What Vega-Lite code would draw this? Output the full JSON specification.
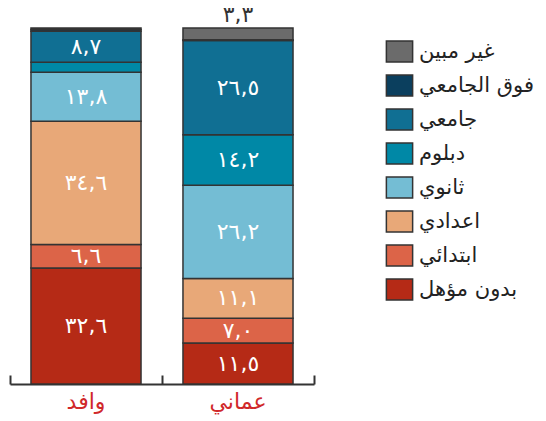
{
  "$schema": "https://vega.github.io/schema/vega-lite/v6.json",
  "width": 304,
  "height": 356,
  "autosize": "none",
  "padding": {"left": 10, "top": 28, "right": 232, "bottom": 37},
  "background": "white",
  "config": {"view": {"stroke": null}, "font": "DejaVu Sans"},
  "data": {
    "values": [
      {"group": "وافد", "category": "بدون مؤهل", "value": 32.6, "order": 1, "label": "٣٢,٦", "top": ""},
      {"group": "وافد", "category": "ابتدائي", "value": 6.6, "order": 2, "label": "٦,٦", "top": ""},
      {"group": "وافد", "category": "اعدادي", "value": 34.6, "order": 3, "label": "٣٤,٦", "top": ""},
      {"group": "وافد", "category": "ثانوي", "value": 13.8, "order": 4, "label": "١٣,٨", "top": ""},
      {"group": "وافد", "category": "دبلوم", "value": 2.8, "order": 5, "label": "", "top": ""},
      {"group": "وافد", "category": "جامعي", "value": 8.7, "order": 6, "label": "٨,٧", "top": ""},
      {"group": "وافد", "category": "فوق الجامعي", "value": 0.5, "order": 7, "label": "", "top": ""},
      {"group": "وافد", "category": "غير مبين", "value": 0.4, "order": 8, "label": "", "top": ""},
      {"group": "عماني", "category": "بدون مؤهل", "value": 11.5, "order": 1, "label": "١١,٥", "top": ""},
      {"group": "عماني", "category": "ابتدائي", "value": 7.0, "order": 2, "label": "٧,٠", "top": ""},
      {"group": "عماني", "category": "اعدادي", "value": 11.1, "order": 3, "label": "١١,١", "top": ""},
      {"group": "عماني", "category": "ثانوي", "value": 26.2, "order": 4, "label": "٢٦,٢", "top": ""},
      {"group": "عماني", "category": "دبلوم", "value": 14.2, "order": 5, "label": "١٤,٢", "top": ""},
      {"group": "عماني", "category": "جامعي", "value": 26.5, "order": 6, "label": "٢٦,٥", "top": ""},
      {"group": "عماني", "category": "فوق الجامعي", "value": 0.2, "order": 7, "label": "", "top": ""},
      {"group": "عماني", "category": "غير مبين", "value": 3.3, "order": 8, "label": "", "top": "٣,٣"}
    ]
  },
  "transform": [
    {"stack": "value", "groupby": ["group"], "sort": [{"field": "order", "order": "ascending"}], "as": ["y0", "y1"]}
  ],
  "encoding": {
    "x": {
      "field": "group",
      "type": "nominal",
      "sort": ["وافد", "عماني"],
      "scale": {"paddingInner": 0, "paddingOuter": 0},
      "axis": {
        "title": null,
        "labelAngle": 0,
        "bandPosition": 1,
        "tickExtra": true,
        "tickSize": -9,
        "tickWidth": 2,
        "tickColor": "#333333",
        "domainColor": "#333333",
        "domainWidth": 2,
        "labelColor": "#d0282a",
        "labelFontSize": 22,
        "labelPadding": 16,
        "labelFont": "DejaVu Sans"
      }
    }
  },
  "layer": [
    {
      "mark": {"type": "bar", "width": {"band": 0.724}, "stroke": "#333333", "strokeWidth": 1.5},
      "encoding": {
        "y": {"field": "y0", "type": "quantitative", "scale": {"domain": [0, 100]}, "axis": null},
        "y2": {"field": "y1"},
        "color": {
          "field": "category",
          "type": "nominal",
          "scale": {
            "domain": ["غير مبين", "فوق الجامعي", "جامعي", "دبلوم", "ثانوي", "اعدادي", "ابتدائي", "بدون مؤهل"],
            "range": ["#6b6b6b", "#0b3f5e", "#106f93", "#0088a6", "#74bdd4", "#e8a878", "#dc6448", "#b52a16"]
          },
          "legend": {
            "title": null,
            "orient": "none",
            "legendX": 378,
            "legendY": 12,
            "padding": 0,
            "symbolType": "M-1.25,-1H1.25V1H-1.25Z",
            "symbolSize": 441,
            "symbolStrokeColor": "#333333",
            "symbolStrokeWidth": 1.5,
            "symbolOpacity": 1,
            "rowPadding": 7,
            "labelFontSize": 21,
            "labelOffset": 8,
            "labelColor": "#222222",
            "labelFont": "DejaVu Sans",
            "labelLimit": 200
          }
        }
      }
    },
    {
      "transform": [
        {"filter": "datum.label != ''"},
        {"fold": ["y0", "y1"], "as": ["edge", "pos"]}
      ],
      "mark": {"type": "text", "color": "white", "fontSize": 22, "baseline": "middle"},
      "encoding": {
        "y": {"aggregate": "mean", "field": "pos", "type": "quantitative"},
        "detail": {"field": "category"},
        "text": {"field": "label"}
      }
    },
    {
      "mark": {"type": "text", "color": "#333333", "fontSize": 22, "baseline": "bottom", "dy": -1},
      "encoding": {
        "y": {"field": "y1", "type": "quantitative"},
        "text": {"field": "top"}
      }
    }
  ]
}
